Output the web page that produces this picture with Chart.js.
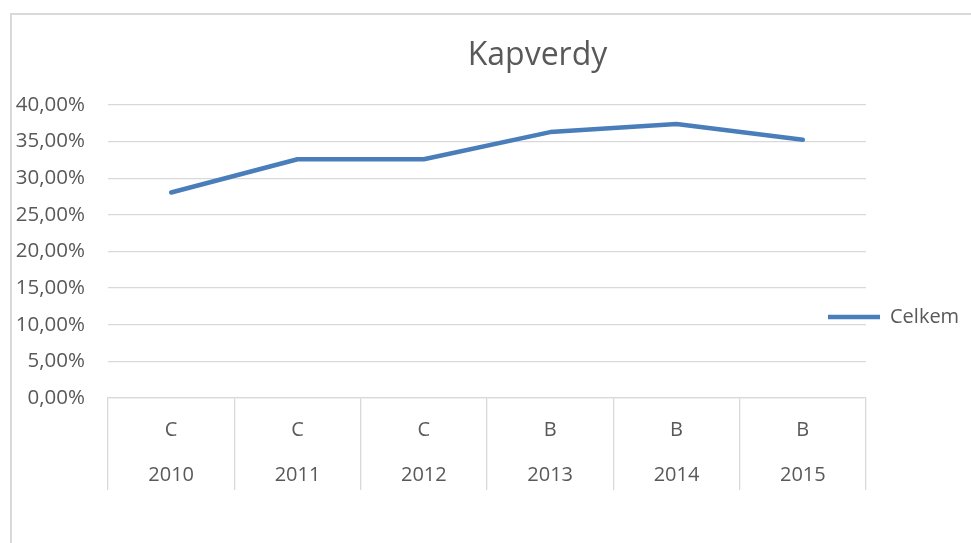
<!DOCTYPE html>
<html>
<head>
<meta charset="utf-8">
<title>Kapverdy</title>
<script src="https://cdn.jsdelivr.net/npm/chart.js@4/dist/chart.umd.min.js"></script>
<style>
  html, body { margin: 0; padding: 0; background: #ffffff; overflow: hidden; }
  #wrap { position: relative; width: 971px; height: 543px; }
  #frame {
    position: absolute; left: 10px; top: 13px; width: 1000px; height: 600px;
    border-left: 2px solid #d9d9d9; border-top: 2px solid #d9d9d9;
  }
  #chart { position: absolute; left: 0; top: 0; }
</style>
</head>
<body>
<div id="wrap">
  <div id="frame"></div>
  <canvas id="chart" width="971" height="543"></canvas>
</div>
<script>
// Data
const years = ['2010', '2011', '2012', '2013', '2014', '2015'];
const grades = ['C', 'C', 'C', 'B', 'B', 'B'];
const celkem = [28.05, 32.6, 32.6, 36.3, 37.4, 35.25];
const seriesName = 'Celkem';
const chartTitle = 'Kapverdy';

const textGray = '#595959';
const gridGray = '#d9d9d9';
const lineBlue = '#4a7ebb';
const fontFamily = '"Open Sans", "Noto Sans", sans-serif';

// Excel-like placement of title and legend
const excelLayout = {
    id: 'excelLayout',
    afterLayout(chart) {
        const t = chart.titleBlock;
        if (t) {
            t.left += 92;
        }
        const lg = chart.legend;
        if (lg) {
            // legend overlaps the plot's right edge a bit, like in Excel
            lg.left -= 48;
            const dy = 297 - lg.top;
            lg.top += dy;
            lg.bottom += dy;
        }
    }
};

const ctx = document.getElementById('chart').getContext('2d');
new Chart(ctx, {
    type: 'line',
    data: {
        labels: years.map((y, i) => [grades[i], y]),
        datasets: [{
            label: seriesName,
            data: celkem,
            borderColor: lineBlue,
            backgroundColor: lineBlue,
            borderWidth: 4.5,
            borderCapStyle: 'round',
            borderJoinStyle: 'round',
            pointRadius: 0,
            pointHoverRadius: 0,
            tension: 0,
            fill: false
        }]
    },
    options: {
        responsive: false,
        animation: false,
        devicePixelRatio: 1,
        layout: { padding: { left: 12, right: 0, top: 0, bottom: 0 } },
        plugins: {
            title: {
                display: true,
                text: chartTitle,
                color: textGray,
                font: { family: fontFamily, size: 32, weight: 'normal' },
                padding: { top: 37, bottom: 29.6 }
            },
            legend: {
                display: true,
                position: 'right',
                align: 'start',
                maxWidth: 105,
                labels: {
                    color: textGray,
                    font: { family: fontFamily, size: 20 },
                    usePointStyle: true,
                    pointStyle: 'line',
                    pointStyleWidth: 52,
                    boxHeight: 4,
                    padding: 10
                }
            },
            tooltip: { enabled: false }
        },
        scales: {
            x: {
                offset: true,
                afterFit: (scale) => { scale.height = 145; },
                grid: {
                    offset: true,
                    drawOnChartArea: false,
                    drawTicks: true,
                    tickLength: 92,
                    color: gridGray,
                    lineWidth: 1.3
                },
                border: { display: true, color: gridGray, width: 1.3 },
                ticks: {
                    color: textGray,
                    font: { family: fontFamily, size: 20, lineHeight: 2.25 },
                    padding: -82.5,
                    maxRotation: 0,
                    autoSkip: false
                }
            },
            y: {
                min: 0,
                max: 40,
                afterFit: (scale) => { scale.width = 96; },
                grid: {
                    color: gridGray,
                    lineWidth: 1.3,
                    drawTicks: false
                },
                border: { display: false },
                ticks: {
                    stepSize: 5,
                    color: textGray,
                    font: { family: fontFamily, size: 20.5 },
                    padding: 23,
                    callback: (v) => v.toFixed(2).replace('.', ',') + '%'
                }
            }
        }
    },
    plugins: [excelLayout]
});
</script>
</body>
</html>
